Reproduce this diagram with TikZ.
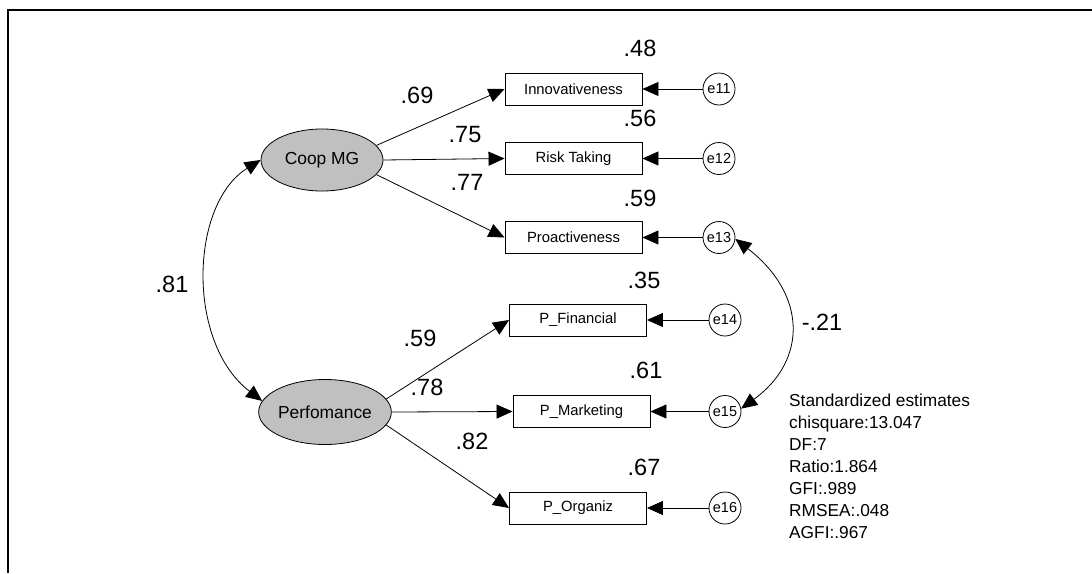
\documentclass[tikz,border=0pt]{standalone}
\usepackage{fontspec}
\setmainfont{Liberation Sans}
\usetikzlibrary{arrows.meta,shapes.geometric}

\tikzset{
  latent/.style={ellipse, draw=black, fill={rgb,255:red,192;green,192;blue,192}, line width=0.8pt,
                 inner sep=0pt, font=\fontsize{17.4}{20}\selectfont},
  indicator/.style={rectangle, draw=black, line width=0.9pt, minimum width=137pt, minimum height=32pt,
                 inner sep=0pt, font=\fontsize{14.8}{17}\selectfont},
  errterm/.style={circle, draw=black, line width=0.8pt, minimum size=32pt, inner sep=0pt,
                 font=\fontsize{14.5}{17}\selectfont},
  estimate/.style={inner sep=0pt, font=\fontsize{23.5}{26}\selectfont},
  path/.style={draw=black, line width=0.8pt, -{Triangle[length=16pt,width=14pt]}},
  covar/.style={draw=black, line width=0.8pt, {Triangle[length=16pt,width=14pt]}-{Triangle[length=16pt,width=14pt]}},
}

\begin{document}
\begin{tikzpicture}[x=1pt,y=-1pt]
  \useasboundingbox (0,0) rectangle (1092,573);
  \fill[white] (0,0) rectangle (1092,573);

  % frame edges
  \coordinate (frameR) at (1092,10);
  \coordinate (frameTL) at (8,10);
  \coordinate (frameB) at (8,573);
  \draw[line width=2pt] (frameR) -- (frameTL) -- (frameB);

  % latent variables
  \node[latent, minimum width=122pt, minimum height=62pt] (coop) at (322,160) {Coop MG};
  \node[latent, minimum width=124pt, minimum height=65pt] (perf) at (325,412) {Perfomance};

  % observed indicators
  \node[indicator] (innov)  at (573.5,89)    {Innovativeness};
  \node[indicator] (risk)   at (573.5,158.5) {Risk Taking};
  \node[indicator] (proact) at (573.5,237.5) {Proactiveness};
  \node[indicator] (pfin)   at (578,320)     {P\_Financial};
  \node[indicator] (pmkt)   at (581.5,411.5) {P\_Marketing};
  \node[indicator] (porg)   at (578,508)     {P\_Organiz};

  % error terms
  \node[errterm] (e11) at (719,89)    {e11};
  \node[errterm] (e12) at (719,158.5) {e12};
  \node[errterm] (e13) at (719,237.5) {e13};
  \node[errterm] (e14) at (725,320)   {e14};
  \node[errterm] (e15) at (725,411.5) {e15};
  \node[errterm] (e16) at (725,508)   {e16};

  % loadings
  \draw[path] (coop.15)  -- (innov.west);
  \draw[path] (coop.east) -- (risk.west);
  \draw[path] (coop.-15) -- (proact.west);
  \draw[path] (perf.12)  -- (pfin.west);
  \draw[path] (perf.east) -- (pmkt.west);
  \draw[path] (perf.-12) -- (porg.west);

  % error paths
  \draw[path] (e11.west) -- (innov.east);
  \draw[path] (e12.west) -- (risk.east);
  \draw[path] (e13.west) -- (proact.east);
  \draw[path] (e14.west) -- (pfin.east);
  \draw[path] (e15.west) -- (pmkt.east);
  \draw[path] (e16.west) -- (porg.east);

  % covariances
  \draw[covar] (coop.west) .. controls +(-71,44) and +(-76,-58) .. (perf.170);
  \draw[covar] (e13.-5) .. controls +(71,55) and +(67,-49) .. (e15.10);

  % estimates
  \node[estimate] (r48) at (640,48)  {.48};
  \node[estimate] (r56) at (640,118) {.56};
  \node[estimate] (r59) at (640,198) {.59};
  \node[estimate] (l69) at (417,95)  {.69};
  \node[estimate] (l75) at (465,135) {.75};
  \node[estimate] (l77) at (467,182) {.77};
  \node[estimate] (r35) at (644,280) {.35};
  \node[estimate] (r61) at (646,370) {.61};
  \node[estimate] (r67) at (644,467) {.67};
  \node[estimate] (l59) at (420,338) {.59};
  \node[estimate] (l78) at (427,387) {.78};
  \node[estimate] (l82) at (472,441) {.82};
  \node[estimate] (c81) at (172,284) {.81};
  \node[estimate] (c21) at (822,322) {-.21};

  % fit summary
  \node[anchor=north west, inner sep=0pt, align=left, font=\fontsize{17.3}{22}\selectfont] (fit) at (789,393.5)
    {Standardized estimates\\chisquare:13.047\\DF:7\\Ratio:1.864\\GFI:.989\\RMSEA:.048\\AGFI:.967};
\end{tikzpicture}
\end{document}
